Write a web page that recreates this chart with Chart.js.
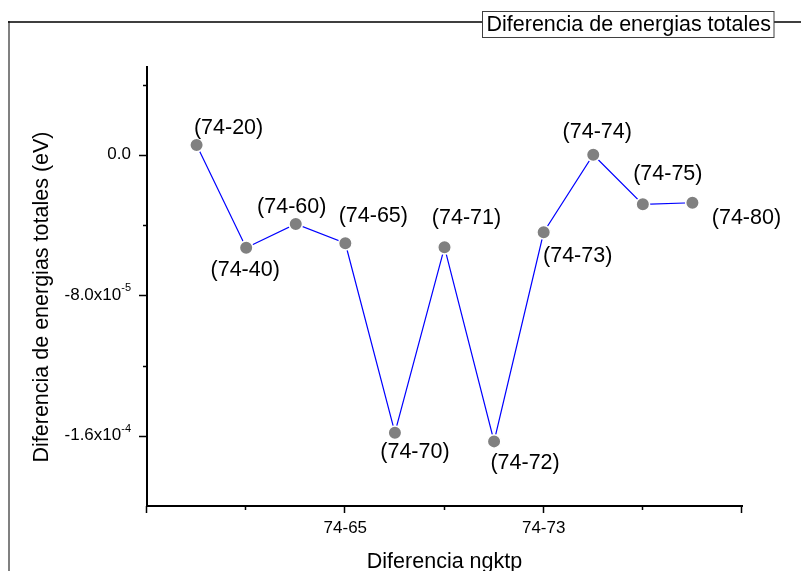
<!DOCTYPE html>
<html>
<head>
<meta charset="utf-8">
<title>Diferencia de energias totales</title>
<script src="https://cdn.jsdelivr.net/npm/chart.js@4.4.1/dist/chart.umd.min.js"></script>
<style>
  html, body { margin: 0; padding: 0; background: #fff; }
  canvas { display: block; }
</style>
</head>
<body>
<canvas id="energyChart" width="801" height="571"></canvas>
<script>
// Datos
const pointLabels = ['(74-20)', '(74-40)', '(74-60)', '(74-65)', '(74-70)', '(74-71)', '(74-72)', '(74-73)', '(74-74)', '(74-75)', '(74-80)'];
const xPositions = [1, 2, 3, 4, 5, 6, 7, 8, 9, 10, 11];
const energyDiff = [5.6e-6, -5.29e-5, -3.94e-5, -5.04e-5, -1.583e-4, -5.27e-5, -1.632e-4, -4.41e-5, 0.0, -2.82e-5, -2.73e-5];

// Ejes
const xMajorTicks = [0, 4, 8, 12];
const xTickLabels = ['', '74-65', '74-73', ''];
const xMinorTicks = [2, 6, 10];
const yMajorTicks = [0, -8e-5, -1.6e-4];
const yTickMantissa = ['0.0', '-8.0x10', '-1.6x10'];
const yTickExponent = ['', '-5', '-4'];
const yMinorTicks = [4e-5, -4e-5, -1.2e-4];

// Posición de cada etiqueta respecto a su punto (px)
const labelOffsets = [[32, -17], [-1, 22], [-4, -17], [28, -27], [20, 19], [22, -29], [31, 22], [34, 24], [4, -23], [25, -30], [54, 15]];

const FONT = '"Liberation Sans", Arial, sans-serif';

const decorPlugin = {
    id: 'decor',
    beforeDraw(chart) {
        const ctx = chart.ctx;
        ctx.save();
        ctx.fillStyle = '#ffffff';
        ctx.fillRect(0, 0, chart.width, chart.height);

        // marco exterior (solo izquierda y arriba)
        ctx.strokeStyle = '#808080';
        ctx.lineWidth = 2;
        ctx.beginPath();
        ctx.moveTo(9, 21);
        ctx.lineTo(9, chart.height);
        ctx.stroke();
        ctx.strokeStyle = '#000000';
        ctx.lineWidth = 1.5;
        ctx.beginPath();
        ctx.moveTo(8, 22);
        ctx.lineTo(482, 22);
        ctx.moveTo(774, 22);
        ctx.lineTo(chart.width, 22);
        ctx.stroke();
        ctx.restore();
    },
    afterDraw(chart) {
        const ctx = chart.ctx;
        const xs = chart.scales.x;
        const ys = chart.scales.y;
        const area = chart.chartArea;
        ctx.save();
        ctx.strokeStyle = '#000000';
        ctx.fillStyle = '#000000';
        ctx.lineWidth = 1.5;

        // marcas del eje x
        ctx.beginPath();
        xMajorTicks.forEach(v => {
            const px = Math.round(xs.getPixelForValue(v)) - 0.5;
            ctx.moveTo(px, area.bottom);
            ctx.lineTo(px, area.bottom + 7);
        });
        xMinorTicks.forEach(v => {
            const px = Math.round(xs.getPixelForValue(v)) - 0.5;
            ctx.moveTo(px, area.bottom);
            ctx.lineTo(px, area.bottom + 4);
        });
        // marcas del eje y
        yMajorTicks.forEach(v => {
            const py = Math.round(ys.getPixelForValue(v)) + 0.5;
            ctx.moveTo(area.left - 8, py);
            ctx.lineTo(area.left, py);
        });
        yMinorTicks.forEach(v => {
            const py = Math.round(ys.getPixelForValue(v)) + 0.5;
            ctx.moveTo(area.left - 4, py);
            ctx.lineTo(area.left, py);
        });
        ctx.stroke();

        // etiquetas del eje x
        ctx.font = '17px ' + FONT;
        ctx.textAlign = 'center';
        ctx.textBaseline = 'middle';
        xMajorTicks.forEach((v, i) => {
            if (xTickLabels[i]) ctx.fillText(xTickLabels[i], xs.getPixelForValue(v), area.bottom + 22);
        });

        // etiquetas del eje y con exponente
        const labelRight = area.left - 16;
        yMajorTicks.forEach((v, i) => {
            const py = ys.getPixelForValue(v);
            ctx.font = '11px ' + FONT;
            const expW = yTickExponent[i] ? ctx.measureText(yTickExponent[i]).width : 0;
            if (yTickExponent[i]) {
                ctx.textAlign = 'right';
                ctx.fillText(yTickExponent[i], labelRight, py - 7);
            }
            ctx.font = '17px ' + FONT;
            ctx.textAlign = 'right';
            ctx.fillText(yTickMantissa[i], labelRight - expW, py);
        });

        // títulos de ejes
        ctx.font = '21.5px ' + FONT;
        ctx.textAlign = 'center';
        ctx.fillText('Diferencia ngktp', (area.left + area.right) / 2, 562);
        ctx.save();
        ctx.translate(42, 297);
        ctx.rotate(-Math.PI / 2);
        ctx.fillText('Diferencia de energias totales (eV)', 0, 0);
        ctx.restore();

        // etiquetas de puntos
        const meta = chart.getDatasetMeta(0);
        meta.data.forEach((pt, i) => {
            ctx.fillText(pointLabels[i], pt.x + labelOffsets[i][0], pt.y + labelOffsets[i][1]);
        });

        // recuadro del título
        ctx.fillStyle = '#ffffff';
        ctx.fillRect(482.5, 11.5, 291.5, 26);
        ctx.strokeStyle = '#404040';
        ctx.lineWidth = 1;
        ctx.strokeRect(482.5, 11.5, 291.5, 26);
        ctx.fillStyle = '#000000';
        ctx.textAlign = 'left';
        ctx.fillText('Diferencia de energias totales', 486.5, 25.5);
        ctx.restore();
    }
};

new Chart(document.getElementById('energyChart'), {
    type: 'line',
    data: {
        datasets: [{
            label: 'Diferencia de energias totales',
            data: xPositions.map((x, i) => ({ x: x, y: energyDiff[i] })),
            borderColor: '#0000ff',
            borderWidth: 1.2,
            tension: 0,
            pointRadius: 6.75,
            pointBackgroundColor: '#808080',
            pointBorderColor: '#ffffff',
            pointBorderWidth: 1.5
        }]
    },
    options: {
        responsive: false,
        animation: false,
        devicePixelRatio: 1,
        layout: { padding: { left: 0, top: 67, right: 59, bottom: 0 } },
        plugins: { legend: { display: false }, tooltip: { enabled: false } },
        scales: {
            x: {
                type: 'linear',
                min: 0,
                max: 12,
                ticks: { display: false },
                grid: { display: true, drawOnChartArea: false, drawTicks: false, color: 'rgba(0,0,0,0)' },
                border: { display: true, color: '#000000', width: 2 },
                afterFit(scale) { scale.height = 65; }
            },
            y: {
                type: 'linear',
                min: -2e-4,
                max: 5e-5,
                ticks: { display: false },
                grid: { display: true, drawOnChartArea: false, drawTicks: false, color: 'rgba(0,0,0,0)' },
                border: { display: true, color: '#000000', width: 2 },
                afterFit(scale) { scale.width = 147; }
            }
        }
    },
    plugins: [decorPlugin]
});
</script>
</body>
</html>
